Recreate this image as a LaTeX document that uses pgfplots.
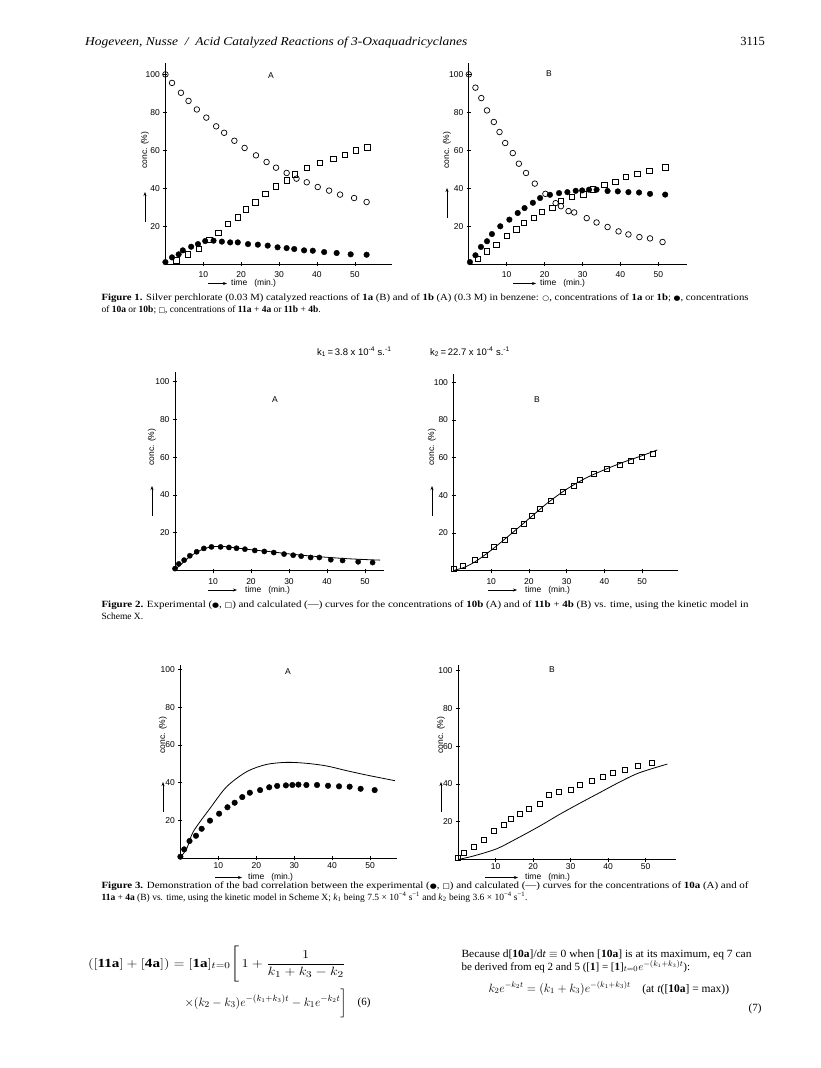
\documentclass[border=0pt]{standalone}
\usepackage{amsmath}
\usepackage{pgfplots}
\pgfplotsset{compat=1.18}
\usepackage{fontspec}
\setmainfont{Liberation Serif}
\newfontfamily\axf{Liberation Sans}
\newfontfamily\symf{DejaVu Sans}
\usepackage{graphicx}
\usetikzlibrary{arrows.meta}
\newcommand\fl[2]{\resizebox{#1pt}{\height}{#2}}
\newcommand\cs{\fontsize{9.5}{11}\selectfont}
\newcommand\oc{{\symf\fontsize{7}{8}\selectfont ○}}
\newcommand\fc{{\symf\fontsize{7}{8}\selectfont ●}}
\newcommand\sq{{\symf\fontsize{7}{8}\selectfont □}}
\newcommand\af{\axf\fontsize{8.5}{9}\selectfont}
\pgfplotsset{pg/.style={
  scale only axis, anchor=south west,
  axis x line=bottom, axis y line=left,
  axis line style={-, line width=0.7pt},
  every outer x axis line/.append style={-},
  every outer y axis line/.append style={-},
  every inner x axis line/.append style={-},
  every inner y axis line/.append style={-},
  xmin=0, ymin=0,
  xtick={10,20,30,40,50}, ytick={20,40,60,80,100},
  tick align=center, major tick length=4pt,
  tick style={line width=0.6pt, black},
  tick label style={font=\af},
  /pgf/number format/assume math mode=true,
  clip=false,
},
lowtick/.style={xticklabel style={yshift=-2.5pt}},
hightick/.style={xticklabel style={yshift=1pt}},
oc/.style={only marks, mark=o, mark size=2.8pt, mark options={line width=0.7pt}},
fc/.style={only marks, mark=*, mark size=2.8pt},
sq/.style={only marks, mark=square, mark size=2.7pt, mark options={line width=0.7pt}},
cv/.style={smooth, line width=0.8pt, no marks},
}
\newcommand\ylab[3]{%
  \node[rotate=90, font=\af] at (#1pt,-#2pt) {conc. (\%)};
  \draw[line width=0.6pt, -{Stealth[length=4pt,width=3pt]}] (#1pt,-#3pt-30pt) -- (#1pt,-#3pt);}
% \xlab{arrow start}{arrow end}{text start}{y}
\newcommand\xlab[4]{%
  \draw[line width=0.6pt, -{Stealth[length=4pt,width=3pt]}] (#1pt,-#4pt) -- (#2pt,-#4pt);
  \node[anchor=west, font=\af, inner sep=0pt] at (#3pt,-#4pt) {time\ \ \ (min.)};}
\begin{document}
\begin{tikzpicture}
\fill[white] (0,0) rectangle (820pt,-1068pt);
\path[use as bounding box] (0,0) rectangle (820pt,-1068pt);

% header
\node[anchor=base west, font=\fontsize{12}{14}\selectfont\itshape, inner sep=0pt] at (85pt,-45pt) {\fl{382}{Hogeveen, Nusse \ / \ Acid Catalyzed Reactions of 3-Oxaquadricyclanes}};
\node[anchor=base east, font=\fontsize{12.5}{14}\selectfont, inner sep=0pt] at (765pt,-45pt) {3115};

% ---------------- Figure 1 A
\begin{axis}[pg, lowtick, at={(165.4pt,-264pt)}, width=226.6pt, height=201pt, xmax=59.8, ymax=106]
\addplot[oc] coordinates {(0,100)(1.75,95.5)(4.1,90.3)(6.1,86)(8.3,81.5)(10.8,77.2)(13.4,72.6)(15.5,69.2)(18.2,65)(20.9,61.2)(23.9,57.3)(26.7,53.8)(29.2,50.8)(32,48)(34.6,45)(37.3,43.1)(40.2,40.6)(43.2,38.7)(46.1,36.6)(49.8,34.8)(53.1,32.7)};
\addplot[sq] coordinates {(2.9,1.9)(6,5.1)(8.8,8.1)(11.6,12.8)(14,16.5)(16.5,21.1)(19.1,24.6)(21.3,28.8)(23.7,32.5)(26.4,36.9)(29.2,40.9)(32,44.1)(34.2,47.3)(37.3,50.8)(40.8,53.4)(44.3,55.5)(47.4,57.6)(50.3,59.9)(53.3,61.5)};
\addplot[fc] coordinates {(0,1)(1.75,3.5)(3.5,5.1)(4.6,7.2)(6.8,9.1)(8.6,10.5)(10.5,12.1)(12.7,12.3)(14.9,11.8)(17.1,11.4)(19.1,11.4)(21.8,10.5)(24.4,10.2)(27,9.7)(29.6,8.8)(32,8.4)(34,7.9)(36.6,7.2)(38.9,7)(41.9,6.3)(45.2,5.8)(48.9,5.1)(53.1,4.9)};
\end{axis}
\node[font=\af] at (271pt,-76pt) {A};
\ylab{145}{150}{192}
\xlab{208}{227}{231}{283.5}

% ---------------- Figure 1 B
\begin{axis}[pg, lowtick, at={(468.8pt,-264pt)}, width=218pt, height=201pt, xmax=57.5, ymax=106]
\addplot[oc] coordinates {(0,100)(1.75,93)(3.3,87.5)(4.8,81)(6.6,74.9)(8.1,69.6)(9.6,63.8)(11.6,58.5)(13.2,52.9)(15.1,48)(17.4,42.4)(20.2,37)(22.9,32.1)(24.3,30.5)(26.3,27.9)(27.8,27.2)(31.1,24.2)(33.7,21.9)(36.6,19.5)(39.5,17.2)(42.1,15.6)(45,14.2)(47.8,13.5)(51.1,11.6)};
\addplot[sq] coordinates {(2.4,2.8)(4.8,6.7)(7.3,10.2)(10.1,14.9)(12.5,18.3)(14.5,21.6)(17.1,24.3)(19.2,27.4)(22,29.5)(24.3,33.2)(27.1,35.3)(30.2,36.7)(32.7,39.3)(35.7,41.8)(38.6,43.2)(41.5,45.9)(44.5,47.6)(47.6,49)(51.8,51)};
\addplot[fc] coordinates {(0.3,1)(1.75,4.6)(3.2,9)(4.8,12)(6.1,15.8)(8.3,19.9)(10.7,23.4)(12.9,26.9)(14.7,29.5)(16.9,32.3)(18.8,34.8)(21.4,36.5)(23.8,37.4)(26,37.9)(28.2,38.6)(29.9,38.8)(31.7,39.2)(33.7,39.2)(36.6,38.5)(39.3,38.3)(42.1,37.9)(44.9,37.7)(47.8,37)(51.8,36.6)};
\end{axis}
\node[font=\af] at (549pt,-74pt) {B};
\ylab{447}{150}{188}
\xlab{513}{536}{540}{283.5}

% caption 1
\node[anchor=base west, font=\cs] at (98pt,-300pt) {\fl{647}{\textbf{Figure 1.} Silver perchlorate (0.03 M) catalyzed reactions of \textbf{1a} (B) and of \textbf{1b} (A) (0.3 M) in benzene: \oc, concentrations of \textbf{1a} or \textbf{1b}; \fc, concentrations}};
\node[anchor=base west, font=\cs] at (98pt,-312pt) {of \textbf{10a} or \textbf{10b}; \sq, concentrations of \textbf{11a} + \textbf{4a} or \textbf{11b} + \textbf{4b}.};

% ---------------- Figure 2 header
\node[anchor=base west, font=\axf\fontsize{9.5}{10}\selectfont, inner sep=0pt] at (317pt,-355pt) {k\textsubscript{1}\,=\,3.8 x 10\textsuperscript{-4} s.\textsuperscript{-1}};
\node[anchor=base west, font=\axf\fontsize{9.5}{10}\selectfont, inner sep=0pt] at (430pt,-355pt) {k\textsubscript{2}\,=\,22.7 x 10\textsuperscript{-4} s.\textsuperscript{-1}};

% ---------------- Figure 2 A
\begin{axis}[pg, lowtick, at={(175pt,-570.5pt)}, width=209pt, height=199pt, xmax=55, ymax=105.4]
\addplot[cv] coordinates {(0,0.5)(2,4)(4,7.5)(6,10)(8,11.8)(10,12.6)(12,12.8)(14,12.5)(16,12)(20,11)(25,10)(30,8.8)(35,7.8)(40,7)(45,6.3)(50,5.8)(54,5.5)};
\addplot[fc, mark size=2.6pt] coordinates {(0,1)(1,3.5)(2.4,5.5)(3.9,7.8)(5.7,9.9)(7.6,11.7)(9.6,12.5)(12,12.5)(14.2,12.2)(16.2,11.8)(18.4,11.3)(21,10.6)(23.5,10.1)(26,9.5)(28.7,8.7)(31.1,8.1)(33.2,7.6)(35.7,6.9)(38,6.9)(41,5.7)(44.1,5.3)(48.2,4.6)(52,4.2)};
\end{axis}
\node[font=\af] at (275pt,-400pt) {A};
\ylab{152}{447}{486}
\xlab{208}{237}{245}{590}

% ---------------- Figure 2 B
\begin{axis}[pg, lowtick, at={(453.5pt,-570.5pt)}, width=224.5pt, height=197pt, xmax=59.5, ymax=104.6]
\addplot[cv] coordinates {(0,0)(3,1.8)(6,5)(10,10.8)(15,19)(20,27.5)(25,36)(30,43.2)(35,49)(40,53.5)(45,57.5)(50,61)(54,64)};
\addplot[sq, mark size=2.5pt] coordinates {(0,1)(2.5,2.7)(5.6,5.7)(8.2,8.1)(10.8,12.5)(13.5,16.4)(16.1,20.8)(18.6,24.7)(20.8,29.2)(23,32.9)(25.9,37.1)(28.9,41.5)(31.9,44.7)(33.6,47.9)(37.2,51.2)(40.7,54.1)(44,56.2)(47.1,58.3)(50,60.1)(52.8,62)};
\end{axis}
\node[font=\af] at (537pt,-400pt) {B};
\ylab{432}{447}{486}
\xlab{488}{517}{525}{590}

% caption 2
\node[anchor=base west, font=\cs] at (98pt,-607pt) {\fl{647}{\textbf{Figure 2.} Experimental (\fc, \sq) and calculated (---) curves for the concentrations of \textbf{10b} (A) and of \textbf{11b} + \textbf{4b} (B) vs. time, using the kinetic model in}};
\node[anchor=base west, font=\cs] at (98pt,-619pt) {Scheme X.};

% ---------------- Figure 3 A
\begin{axis}[pg, hightick, at={(180.4pt,-858pt)}, width=216.3pt, height=193pt, xmax=57, ymax=102.3]
\addplot[cv] coordinates {(0,0.4)(1.7,5.1)(3.4,14)(7.8,26.3)(12.2,37.8)(17.5,45.8)(22.7,49.6)(28,50.7)(33.2,50.2)(38.5,48.8)(43.8,46.3)(49,44)(56.5,41)};
\addplot[fc] coordinates {(0,0.7)(1,4.6)(2.4,9)(4.1,11.8)(5.6,15.5)(7.8,19.8)(10.2,23.5)(12.4,26.9)(14.3,29.3)(16.3,32.3)(18.3,34.6)(21,36)(23.4,37.5)(25.5,38.2)(27.8,38.5)(29.5,38.7)(31.1,38.9)(33.2,38.7)(36,38.7)(38.9,38.3)(41.8,38)(44.6,37.8)(47.5,36.7)(51.2,36)};
\end{axis}
\node[font=\af] at (288pt,-672pt) {A};
\ylab{163}{735}{782}
\xlab{215}{242}{248}{877.5}

% ---------------- Figure 3 B
\begin{axis}[pg, hightick, at={(458pt,-859.5pt)}, width=218pt, height=194.5pt, xmax=58.1, ymax=102.9]
\addplot[cv] coordinates {(0,0)(4,1.8)(10.2,5.6)(15.5,10.9)(21.7,17.6)(27,23.8)(32.3,29.6)(37.6,35.2)(42.9,40.8)(48.2,45.8)(55.8,50.5)};
\addplot[sq, mark size=2.5pt] coordinates {(0,0.9)(1.6,3.3)(4.2,6.9)(6.9,10.4)(9.6,15.1)(12.2,18.3)(14.2,21.7)(16.6,24.3)(19,26.9)(21.7,29.2)(24.2,34.3)(27,35.9)(30.1,36.8)(32.6,39.4)(35.7,41.5)(38.5,43.7)(41.3,45.8)(44.4,47.5)(48,49.3)(51.6,50.9)};
\end{axis}
\node[font=\af] at (552pt,-670pt) {B};
\ylab{441}{735}{782}
\xlab{485}{518}{525}{877.5}

% caption 3
\node[anchor=base west, font=\cs] at (98pt,-888.5pt) {\fl{647}{\textbf{Figure 3.} Demonstration of the bad correlation between the experimental (\fc, \sq) and calculated (---) curves for the concentrations of \textbf{10a} (A) and of}};
\node[anchor=base west, font=\cs] at (98pt,-900.5pt) {\textbf{11a} + \textbf{4a} (B) vs. time, using the kinetic model in Scheme X; \textit{k}\textsubscript{1} being 7.5 × 10\textsuperscript{−4} s\textsuperscript{−1} and \textit{k}\textsubscript{2} being 3.6 × 10\textsuperscript{−4} s\textsuperscript{−1}.};

% equations
\node[anchor=west, font=\fontsize{12.5}{14}\selectfont, inner sep=0pt] at (88pt,-964pt) {\fl{257}{$([\textbf{11a}] + [\textbf{4a}]) = [\textbf{1a}]_{t=0}\Bigg[\,1 + \dfrac{1}{k_1+k_3-k_2}$}};
\node[anchor=east, font=\fontsize{12.5}{14}\selectfont, inner sep=0pt] at (347pt,-1003pt) {$\times(k_2-k_3)e^{-(k_1+k_3)t} - k_1e^{-k_2t}\bigg]$};
\node[anchor=east, font=\fontsize{11}{13}\selectfont] at (374pt,-1003pt) {(6)};
\node[anchor=base west, font=\fontsize{11}{13}\selectfont] at (458pt,-957pt) {\fl{290}{Because d[\textbf{10a}]/d\textit{t} $\equiv$ 0 when [\textbf{10a}] is at its maximum, eq 7 can}};
\node[anchor=base west, font=\fontsize{11}{13}\selectfont] at (458pt,-970pt) {be derived from eq 2 and 5 ([\textbf{1}] = [\textbf{1}]$_{t=0}e^{-(k_1+k_3)t}$):};
\node[anchor=base west, font=\fontsize{11.5}{13}\selectfont] at (485pt,-992pt) {$k_2e^{-k_2t} = (k_1+k_3)e^{-(k_1+k_3)t}$\quad (at \textit{t}([\textbf{10a}] = max))};
\node[anchor=base east, font=\fontsize{11}{13}\selectfont] at (765pt,-1011pt) {(7)};
\end{tikzpicture}
\end{document}
